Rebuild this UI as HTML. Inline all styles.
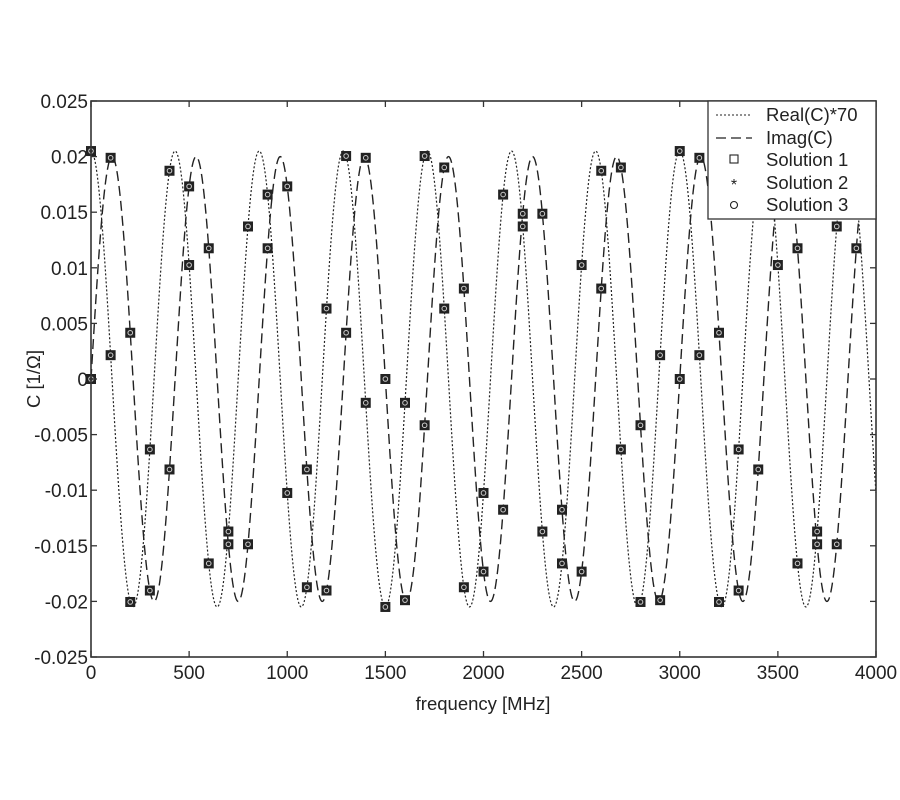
<!DOCTYPE html>
<html><head><meta charset="utf-8">
<style>
body{margin:0;background:#fff;}
svg{display:block;font-family:"Liberation Sans",Arial,sans-serif;}
</style></head>
<body>
<svg id="s" width="900" height="800" viewBox="0 0 900 800" xmlns="http://www.w3.org/2000/svg">
<rect width="900" height="800" fill="#fff"/>
<g id="curves"></g>
<g id="marks"></g>
<rect x="91" y="101" width="785" height="556" fill="none" stroke="#333" stroke-width="1.6"/>
<g id="ticks" stroke="#333" stroke-width="1.3"></g>
<g id="labels" font-size="19" fill="#222"></g>
<text x="483" y="710" font-size="18.5" text-anchor="middle" fill="#222">frequency [MHz]</text>
<text transform="translate(40,379) rotate(-90)" font-size="18.5" text-anchor="middle" fill="#222">C [1/Ω]</text>
<g>
<rect x="708" y="101" width="168" height="118" fill="#fff" stroke="#333" stroke-width="1.3"/>
<line x1="716" y1="115" x2="752" y2="115" stroke="#222" stroke-width="1.1" stroke-dasharray="2,2"/>
<line x1="716" y1="138" x2="752" y2="138" stroke="#222" stroke-width="1.3" stroke-dasharray="10,5"/>
<rect x="730" y="155" width="8" height="8" fill="none" stroke="#222" stroke-width="1.1"/>
<text x="734" y="190" font-size="16" text-anchor="middle" fill="#222">*</text>
<circle cx="734" cy="205" r="3.5" fill="none" stroke="#222" stroke-width="1.1"/>
<g font-size="18.5" fill="#222">
<text x="766" y="121">Real(C)*70</text>
<text x="766" y="144">Imag(C)</text>
<text x="766" y="166">Solution 1</text>
<text x="766" y="189">Solution 2</text>
<text x="766" y="211">Solution 3</text>
</g>
</g>
</svg>
<script>
var NS="http://www.w3.org/2000/svg";
function X(f){return 91+f*785/4000;}
function Y(v){return 379-v*278/0.025;}
var w=2*Math.PI/(3000/7);
function re(f){return 0.0205*Math.cos(w*f);}
function im(f){return 0.02*Math.sin(w*f);}
function mk(tag,attrs,parent){var e=document.createElementNS(NS,tag);for(var k in attrs)e.setAttribute(k,attrs[k]);parent.appendChild(e);return e;}
var cv=document.getElementById('curves');
var d1="",d2="";
for(var f=0;f<=4000;f+=2){d1+=(f?"L":"M")+X(f).toFixed(2)+" "+Y(re(f)).toFixed(2);d2+=(f?"L":"M")+X(f).toFixed(2)+" "+Y(im(f)).toFixed(2);}
mk('path',{d:d1,fill:'none',stroke:'#222','stroke-width':1.2,'stroke-dasharray':'2,2'},cv);
mk('path',{d:d2,fill:'none',stroke:'#222','stroke-width':1.4,'stroke-dasharray':'10,5'},cv);
var mg=document.getElementById('marks');
for(var f=0;f<=3900;f+=100){[re(f),im(f)].forEach(function(v){var x=X(f),y=Y(v);
mk('rect',{x:x-5,y:y-5,width:10,height:10,fill:'#222'},mg);
mk('circle',{cx:x,cy:y,r:2.3,fill:'none',stroke:'#ccc','stroke-width':1},mg);});}
var tg=document.getElementById('ticks'),lg=document.getElementById('labels');
for(var i=0;i<=8;i++){var f=i*500,x=X(f);
mk('line',{x1:x,y1:657,x2:x,y2:651},tg);mk('line',{x1:x,y1:101,x2:x,y2:107},tg);
var t=mk('text',{x:x,y:653+26,'text-anchor':'middle'},lg);t.textContent=f;}
for(var j=-5;j<=5;j++){var v=j*0.005,y=Y(v);
mk('line',{x1:91,y1:y,x2:97,y2:y},tg);mk('line',{x1:876,y1:y,x2:870,y2:y},tg);
var s=(j==0)?"0":(Math.round(v*1000)/1000).toString();
var t=mk('text',{x:88,y:y+7,'text-anchor':'end'},lg);t.textContent=s;}
</script>
</body></html>
